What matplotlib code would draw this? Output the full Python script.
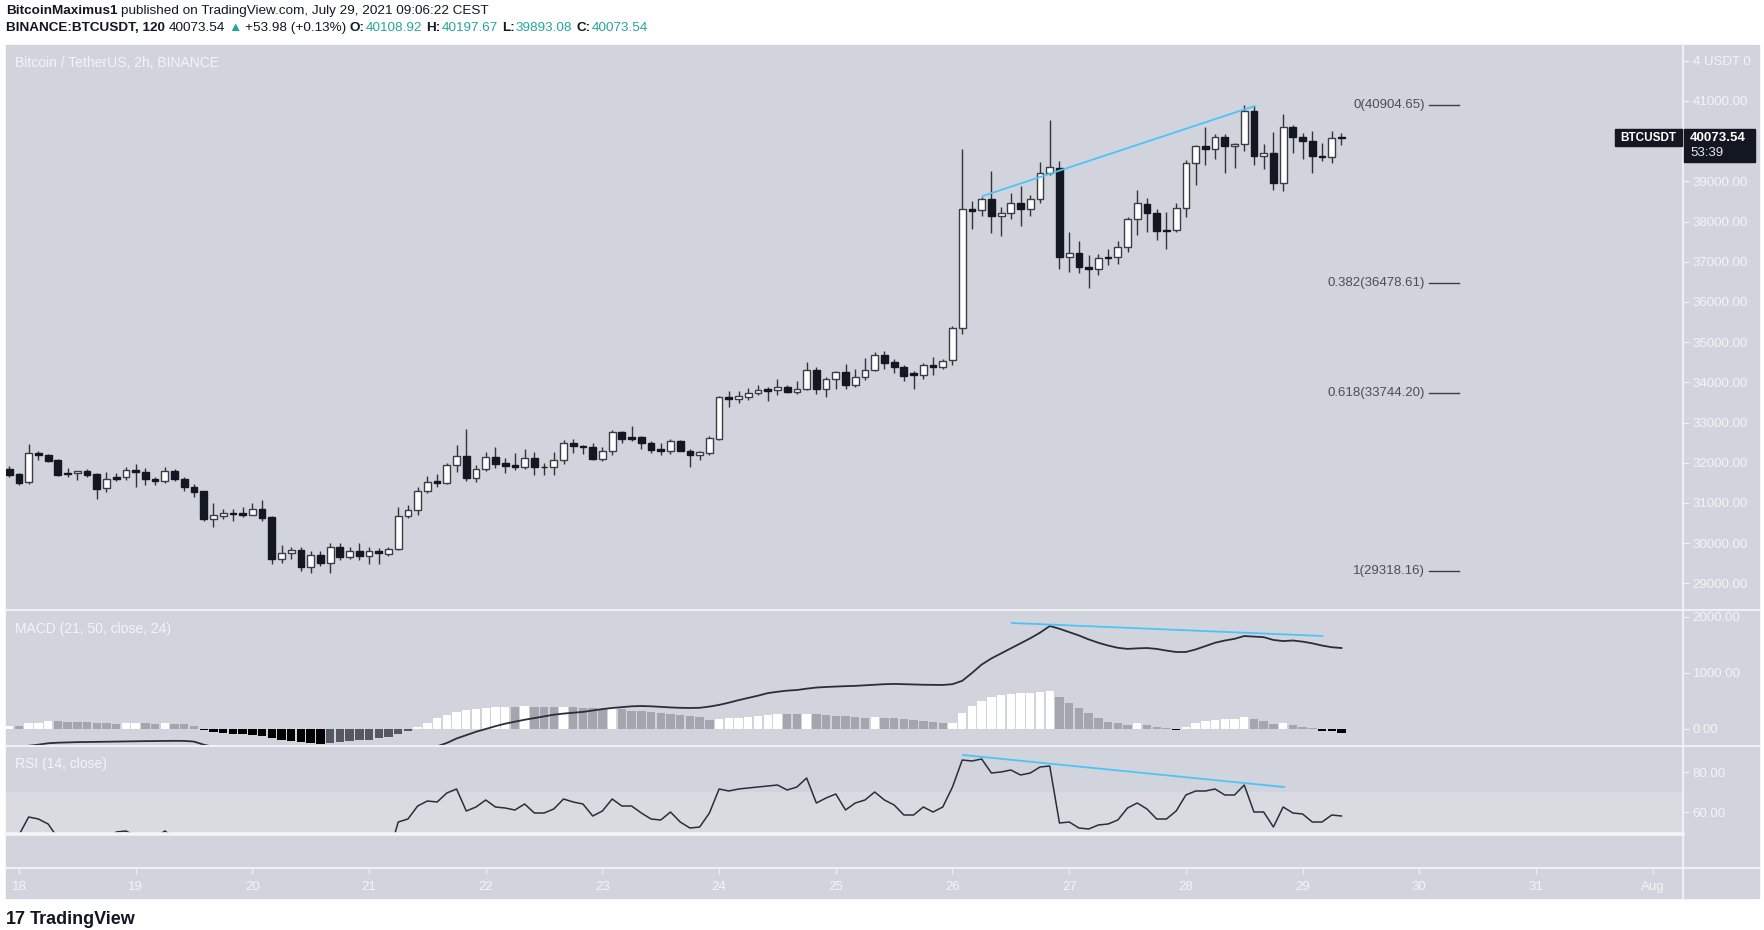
import matplotlib
matplotlib.use("Agg")
import matplotlib.pyplot as plt
from matplotlib.lines import Line2D
from matplotlib.patches import Rectangle
from matplotlib.ticker import FormatStrFormatter
import numpy as np

plt.rcParams['font.family'] = ['Liberation Sans', 'DejaVu Sans']

W, H = 1764, 930

# ---- 2h candles, BTCUSDT, first one is Jul 17 22:00 ----
opens = [31846, 31721, 31522, 32252, 32186, 32070, 31755, 31738, 31804, 31721,
         31373, 31638, 31638, 31821, 31771, 31588, 31539, 31788, 31605, 31390,
         31290, 30594, 30677, 30743, 30743, 30710, 30859, 30643, 29599, 29748,
         29831, 29416, 29698, 29516, 29914, 29665, 29797, 29681, 29797, 29731,
         29847, 30676, 30826, 31307, 31539, 31489, 31937, 32169, 31622, 31837,
         32136, 31987, 31937, 31904, 32119, 31904, 31887, 32070, 32501, 32418,
         32385, 32103, 32285, 32766, 32633, 32633, 32501, 32335, 32302, 32550,
         32302, 32202, 32252, 32600, 33628, 33595, 33645, 33728, 33827, 33811,
         33877, 33761, 33844, 34308, 33844, 34093, 34258, 33927, 34143, 34308,
         34690, 34507, 34391, 34225, 34176, 34441, 34375, 34557, 35353, 38322,
         38289, 38554, 38139, 38206, 38471, 38305, 38554, 39201, 39333, 37111,
         37227, 36879, 36829, 37128, 37128, 37360, 38073, 38438, 38206, 37791,
         37791, 38338, 39449, 39881, 39798, 40113, 39881, 39930, 40743, 39632,
         39698, 38952, 40361, 40096, 40013, 39632, 39615, 40108.92]
highs = [31920, 31738, 32468, 32302, 32219, 32086, 31870, 31788, 31854, 31738,
         31771, 31755, 31887, 31970, 31870, 31655, 31904, 31837, 31655, 31473,
         31307, 30992, 30859, 30842, 30909, 30992, 31074, 30676, 29963, 29897,
         29913, 29797, 29797, 29996, 29996, 29913, 30013, 29913, 29880, 29913,
         30909, 30958, 31390, 31671, 31721, 31987, 32434, 32849, 31954, 32268,
         32385, 32119, 32235, 32335, 32269, 31987, 32269, 32567, 32584, 32451,
         32501, 32401, 32816, 32799, 32915, 32667, 32550, 32484, 32600, 32567,
         32335, 32302, 32667, 33661, 33778, 33778, 33860, 33943, 33877, 34076,
         33943, 34043, 34507, 34391, 34142, 34292, 34457, 34341, 34607, 34756,
         34789, 34574, 34441, 34275, 34474, 34624, 34590, 35403, 39798, 38504,
         38620, 39267, 38372, 38720, 38886, 38654, 39483, 40527, 39516, 37741,
         37526, 37161, 37194, 37310, 37509, 38123, 38786, 38587, 38322, 38239,
         38454, 39532, 39897, 40345, 40179, 40179, 39947, 40892, 40875, 39930,
         40229, 40677, 40411, 40212, 40262, 39963, 40262, 40197.67]
lows = [31655, 31456, 31473, 32070, 32020, 31672, 31655, 31572, 31638, 31108,
        31274, 31555, 31572, 31406, 31439, 31439, 31489, 31555, 31307, 31141,
        30544, 30411, 30610, 30544, 30660, 30693, 30544, 29482, 29516, 29615,
        29300, 29267, 29433, 29267, 29582, 29615, 29582, 29482, 29482, 29681,
        29830, 30627, 30710, 31240, 31406, 31472, 31771, 31555, 31522, 31788,
        31870, 31754, 31821, 31854, 31705, 31705, 31705, 31970, 32235, 32219,
        32070, 32053, 32186, 32484, 32534, 32351, 32235, 32186, 32219, 32285,
        31904, 32070, 32185, 32567, 33380, 33496, 33562, 33678, 33545, 33678,
        33744, 33711, 33811, 33711, 33645, 33844, 33844, 33894, 34060, 34275,
        34341, 34225, 34026, 33844, 34093, 34176, 34325, 34425, 35204, 37808,
        38139, 37708, 37642, 38056, 37891, 38139, 38454, 39151, 36813, 36746,
        36730, 36348, 36663, 36912, 36945, 37244, 37675, 37741, 37542, 37327,
        37741, 38106, 38902, 39416, 39549, 39201, 39333, 39764, 39416, 39300,
        38786, 38770, 39715, 39565, 39201, 39499, 39466, 39893.08]
closes = [31696, 31506, 32235, 32186, 32053, 31705, 31713, 31788, 31705, 31356,
          31605, 31597, 31821, 31771, 31605, 31539, 31788, 31605, 31390, 31274,
          30594, 30693, 30743, 30726, 30693, 30842, 30627, 29599, 29748, 29831,
          29416, 29698, 29516, 29914, 29665, 29797, 29681, 29797, 29748, 29847,
          30676, 30826, 31307, 31522, 31489, 31937, 32169, 31622, 31854, 32136,
          31970, 31920, 31887, 32119, 31887, 31895, 32070, 32501, 32418, 32385,
          32103, 32285, 32766, 32600, 32600, 32484, 32318, 32302, 32550, 32302,
          32202, 32268, 32617, 33628, 33595, 33661, 33744, 33811, 33794, 33877,
          33761, 33844, 34308, 33844, 34093, 34258, 33927, 34143, 34308, 34690,
          34491, 34391, 34159, 34192, 34441, 34375, 34541, 35353, 38305, 38272,
          38554, 38139, 38206, 38471, 38305, 38554, 39201, 39366, 37111, 37227,
          36879, 36829, 37095, 37095, 37360, 38073, 38454, 38206, 37758, 37758,
          38338, 39449, 39881, 39798, 40113, 39881, 39930, 40743, 39632, 39698,
          38952, 40361, 40096, 40013, 39632, 39599, 40079, 40073.54]

macd_line = [-340, -320, -300, -280, -255, -245, -240, -235, -232, -230,
             -228, -225, -222, -220, -217, -215, -213, -212, -213, -225,
             -280, -320, -360, -410, -450, -490, -520, -550, -580, -600,
             -610, -610, -600, -580, -560, -540, -510, -480, -450, -420,
             -390, -370, -350, -330, -310, -250, -170, -110, -50, 0,
             50, 95, 130, 165, 195, 225, 255, 275, 290, 305,
             330, 355, 375, 390, 405, 410, 405, 395, 385, 378,
             375, 378, 400, 430, 470, 515, 555, 595, 640, 665,
             685, 696, 720, 740, 750, 758, 765, 770, 780, 790,
             800, 805, 800, 795, 790, 788, 786, 800, 860, 1000,
             1150, 1260, 1350, 1440, 1530, 1620, 1720, 1839, 1790, 1730,
             1670, 1600, 1540, 1490, 1450, 1430, 1440, 1446, 1430, 1400,
             1375, 1375, 1420, 1480, 1540, 1580, 1610, 1660, 1650, 1640,
             1590, 1570, 1580, 1560, 1530, 1490, 1460, 1446]
macd_hist = [55, 50, 100, 115, 140, 135, 130, 125, 120, 110,
             100, 95, 105, 110, 100, 95, 100, 90, 80, 60,
             -20, -55, -70, -85, -95, -110, -120, -170, -195, -220,
             -240, -245, -265, -245, -230, -218, -205, -194, -170, -135,
             -87, -40, 30, 115, 190, 245, 295, 335, 365, 380,
             395, 400, 395, 402, 395, 390, 385, 390, 385, 380,
             372, 365, 370, 355, 330, 315, 300, 285, 270, 250,
             230, 210, 160, 175, 190, 205, 220, 235, 245, 270,
             265, 262, 275, 265, 255, 240, 225, 210, 195, 215,
             205, 190, 175, 160, 140, 120, 100, 115, 277, 415,
             508, 567, 603, 621, 634, 640, 657, 682, 567, 467,
             366, 277, 200, 130, 100, 75, 100, 75, 40, 10,
             -10, 40, 100, 140, 165, 175, 180, 217, 180, 140,
             80, 100, 70, 40, 10, -35, -45, -65]
rsi = [45, 48.5, 57.5, 56.5, 54, 47, 44, 43, 42, 44,
       46, 50, 50.5, 48, 45, 47, 50.5, 47, 42, 40,
       36, 32, 34, 35, 34, 35, 37, 34, 26, 29,
       30, 27, 31, 30, 35, 33, 35, 34, 36, 38,
       55, 56.5, 63, 65.5, 65, 69.5, 71.5, 60.5, 62.5, 66,
       62.5, 62, 61, 64, 59.5, 59.5, 61.5, 66.5, 65, 64,
       58, 60.5, 66.5, 63, 63, 59.5, 56.5, 56, 60, 55,
       52, 52.5, 59.5, 71.5, 70.5, 71.5, 72, 72.5, 73, 73.5,
       71, 72.5, 77, 64.5, 67, 69, 61, 64.5, 66, 70,
       66, 63.5, 58.5, 58.5, 62.5, 60, 62.5, 72.5, 86, 85.5,
       86.5, 79.5, 80, 81, 78.5, 79.5, 82.5, 83, 54.5, 55,
       52, 51.5, 53.5, 54, 56, 62, 64.5, 61.5, 56.5, 56.5,
       60.5, 68.5, 70.5, 70.5, 71.5, 68.5, 68.5, 73.5, 60, 60,
       52.5, 62.5, 59.5, 59, 55, 55, 58.5, 58]

day_labels = ['18', '19', '20', '21', '22', '23', '24', '25', '26', '27',
              '28', '29', '30', '31', 'Aug']

fib_levels = ['0', '0.382', '0.618', '1']
fib_prices = [40904.65, 36478.61, 33744.20, 29318.16]

# drawn trend lines (days after Jul 18 00:00, value)
price_trend_t = [8.26, 10.59]
price_trend_v = [38637, 40876]
macd_trend_t = [8.51, 11.17]
macd_trend_v = [1893, 1661]
rsi_trend_t = [8.09, 10.84]
rsi_trend_v = [88.5, 72.5]

last_price = 40073.54

BG = '#d1d4dc'
LINE = '#eef0f4'
TXT = '#f3f4f7'
DARK = '#131722'
TEAL = '#26a69a'
BLUE = '#4fc3f7'

fig = plt.figure(figsize=(W / 100, H / 100), dpi=100)
fig.patch.set_facecolor('white')


def fx(px):
    return px / W


def fy(py):
    return 1 - py / H


def pane(top, bottom, left=6, right=1683):
    a = fig.add_axes([fx(left), fy(bottom), fx(right - left), (bottom - top) / H])
    a.set_facecolor('none')
    for s in a.spines.values():
        s.set_visible(False)
    a.set_xlim(-0.111, 14.26)
    a.set_xticks([])
    return a


fig.patches.append(Rectangle((fx(6), fy(898)), fx(1753), 853 / H,
                             transform=fig.transFigure, color=BG, zorder=-5))

ax_p = pane(45, 610)
ax_m = pane(610, 746)
ax_r = pane(746, 833)
ax_e = pane(835, 868)

t = (np.arange(len(closes)) - 1) / 12.0
o = np.array(opens, dtype=float)
c = np.array(closes, dtype=float)
hi = np.array(highs, dtype=float)
lo = np.array(lows, dtype=float)
up = c >= o

# ---- price pane ----
ax_p.vlines(t, lo, hi, color='#30333b', lw=1.0, zorder=2)
body_h = np.maximum(np.abs(c - o), 6)
ax_p.bar(t[up], body_h[up], bottom=np.minimum(o, c)[up], width=0.058,
         color='white', edgecolor='#3a3d45', lw=1.0, zorder=3)
ax_p.bar(t[~up], body_h[~up], bottom=np.minimum(o, c)[~up], width=0.058,
         color=DARK, edgecolor=DARK, lw=1.0, zorder=3)
ax_p.set_ylim(28338, 42393)
ax_p.yaxis.tick_right()
pt = list(range(29000, 43000, 1000))
plabels = ['%.2f' % v for v in pt]
plabels[-1] = '4 USDT 0'
plabels[pt.index(40000)] = ''   # hidden under the last-price label
ax_p.set_yticks(pt, labels=plabels)
ax_p.plot(price_trend_t, price_trend_v, color=BLUE, lw=1.3, zorder=4)

for lvl, pr in zip(fib_levels, fib_prices):
    ax_p.plot([12.08, 12.34], [pr, pr], color='#3a3d45', lw=1.0)
    ax_p.text(12.05, pr, '%s(%.2f)' % (lvl, pr), ha='right', va='center',
              fontsize=9.5, color='#4a4e59')

ax_p.text(0.0055, 0.968, 'Bitcoin / TetherUS, 2h, BINANCE', transform=ax_p.transAxes,
          fontsize=10, color=TXT, va='center')

# ---- MACD pane ----
hcol = []
for k, v in enumerate(macd_hist):
    prev = macd_hist[k - 1] if k > 0 else v - 1
    if v >= 0:
        hcol.append('#ffffff' if v > prev else '#a3a6ae')
    else:
        hcol.append('#000000' if v < prev else '#555860')
ax_m.bar(t, macd_hist, width=0.072, color=hcol, lw=0, zorder=2)
ax_m.plot(t, macd_line, color='#2a2e39', lw=1.3, zorder=3)
ax_m.plot(macd_trend_t, macd_trend_v, color=BLUE, lw=1.3, zorder=4)
ax_m.set_ylim(-304, 2125)
ax_m.yaxis.tick_right()
ax_m.set_yticks([0, 1000, 2000])
ax_m.yaxis.set_major_formatter(FormatStrFormatter('%.2f'))
ax_m.text(0.0055, 0.86, 'MACD (21, 50, close, 24)', transform=ax_m.transAxes,
          fontsize=10, color=TXT, va='center')

# ---- RSI pane ----
ax_r.axhspan(30, 70, color='#d9dbe1', lw=0, zorder=1)
ax_r.plot(t, rsi, color='#2a2e39', lw=1.1, zorder=3)
ax_r.plot(rsi_trend_t, rsi_trend_v, color=BLUE, lw=1.3, zorder=4)
ax_r.set_ylim(49.5, 93)
ax_r.yaxis.tick_right()
ax_r.set_yticks([60, 80])
ax_r.yaxis.set_major_formatter(FormatStrFormatter('%.2f'))
ax_r.text(0.0055, 0.79, 'RSI (14, close)', transform=ax_r.transAxes,
          fontsize=10, color=TXT, va='center')

for a in (ax_p, ax_m, ax_r):
    a.tick_params(axis='y', direction='out', length=4, color=LINE,
                  labelcolor=TXT, labelsize=9.5, pad=3)

# ---- time axis ----
ax_e.set_yticks([])
ax_e.set_xticks(range(len(day_labels)), labels=day_labels)
ax_e.tick_params(axis='x', direction='out', length=4, color=LINE,
                 labelcolor=TXT, labelsize=9.5, pad=5)

# ---- pane borders ----
for yy in (610, 746, 868):
    fig.lines.append(Line2D([fx(6), fx(1759)], [fy(yy), fy(yy)], transform=fig.transFigure,
                            color=LINE, lw=1.5, zorder=1))
fig.lines.append(Line2D([fx(6), fx(1683)], [fy(834), fy(834)], transform=fig.transFigure,
                        color='#f4f5f8', lw=2.6, zorder=1))
fig.lines.append(Line2D([fx(1683), fx(1683)], [fy(45), fy(898)], transform=fig.transFigure,
                        color=LINE, lw=1.5, zorder=1))

# ---- last price label ----
yl = ax_p.transData.transform((0, last_price))[1]
y_top = H - yl - 9
fig.patches.append(Rectangle((fx(1684), fy(y_top + 33)), fx(71), 33 / H,
                             transform=fig.transFigure, color=DARK, zorder=5))
fig.patches.append(Rectangle((fx(1615), fy(y_top + 17)), fx(67), 17 / H,
                             transform=fig.transFigure, color=DARK, zorder=5))
fig.text(fx(1690), fy(y_top + 8.5), '%.2f' % last_price, color='white', fontsize=9.5,
         fontweight='bold', va='center', zorder=6)
fig.text(fx(1690), fy(y_top + 24), '53:39', color='#e6e8ee', fontsize=9.5,
         va='center', zorder=6)
fig.text(fx(1648.5), fy(y_top + 8.5), 'BTCUSDT', color='white', fontsize=8.5,
         fontweight='bold', va='center', ha='center', zorder=6)

# ---- header ----
rend = fig.canvas.get_renderer()


def run(x, y, parts, size):
    for s, col, wt, gap in parts:
        tx = fig.text(fx(x), fy(y), s, color=col, fontsize=size, fontweight=wt, va='center')
        x += tx.get_window_extent(renderer=rend).width + gap


run(6, 11, [('BitcoinMaximus1', DARK, 'bold', 4),
            ('published on TradingView.com, July 29, 2021 09:06:22 CEST', DARK, 'normal', 0)], 9.7)
run(6, 28, [('BINANCE:BTCUSDT, 120', DARK, 'bold', 4),
            ('40073.54', DARK, 'normal', 3),
            ('\u25b2', TEAL, 'normal', 3),
            ('+53.98 (+0.13%)', DARK, 'normal', 4),
            ('O:', DARK, 'bold', 1), ('40108.92', TEAL, 'normal', 4),
            ('H:', DARK, 'bold', 1), ('40197.67', TEAL, 'normal', 4),
            ('L:', DARK, 'bold', 1), ('39893.08', TEAL, 'normal', 4),
            ('C:', DARK, 'bold', 1), ('40073.54', TEAL, 'normal', 0)], 9.7)

# ---- footer logo ----
run(6, 919, [('17', DARK, 'heavy', 4), ('TradingView', DARK, 'bold', 0)], 13)

fig.savefig('out.png', dpi=100, facecolor='white')
